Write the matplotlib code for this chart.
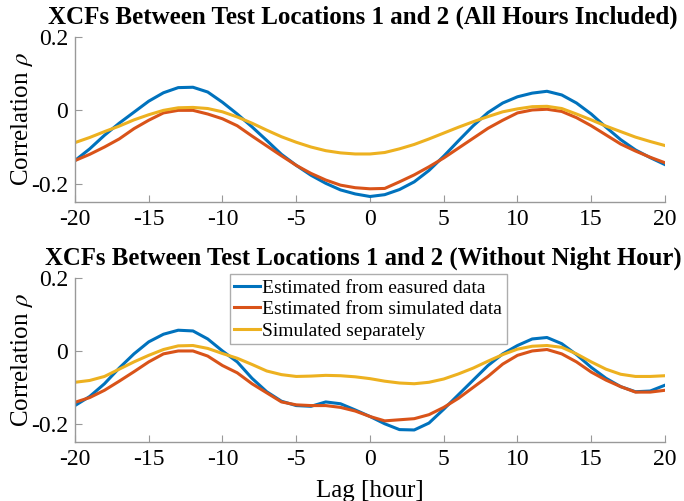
import numpy as np
import matplotlib.pyplot as plt

plt.rcParams['font.family'] = ['Liberation Serif', 'DejaVu Serif']
plt.rcParams['mathtext.fontset'] = 'stix'
plt.rcParams['axes.unicode_minus'] = False

lags = np.arange(-20, 21)

# all hours included
meas_all = [-0.137, -0.105, -0.068, -0.035, -0.005, 0.025, 0.048, 0.062, 0.063, 0.05, 0.022,
            -0.01, -0.045, -0.082, -0.12, -0.15, -0.177, -0.199, -0.217, -0.228, -0.235,
            -0.23, -0.216, -0.195, -0.164, -0.125, -0.083, -0.042, -0.006, 0.02, 0.037,
            0.047, 0.052, 0.042, 0.02, -0.01, -0.046, -0.08, -0.108, -0.129, -0.148]
sim_all = [-0.137, -0.12, -0.1, -0.078, -0.05, -0.027, -0.007, 0.0, 0.0, -0.01, -0.023,
           -0.042, -0.07, -0.097, -0.124, -0.15, -0.172, -0.19, -0.204, -0.211, -0.214,
           -0.213, -0.195, -0.176, -0.154, -0.13, -0.103, -0.076, -0.049, -0.027, -0.007,
           0.001, 0.003, -0.003, -0.02, -0.042, -0.067, -0.092, -0.111, -0.128, -0.143]
sep_all = [-0.088, -0.074, -0.058, -0.043, -0.026, -0.012, 0.0, 0.007, 0.008, 0.005, -0.004,
           -0.018, -0.035, -0.054, -0.072, -0.087, -0.1, -0.11, -0.116, -0.119, -0.119,
           -0.115, -0.105, -0.093, -0.078, -0.062, -0.046, -0.031, -0.017, -0.004, 0.004,
           0.01, 0.011, 0.005, -0.01, -0.026, -0.043, -0.058, -0.073, -0.085, -0.096]

# without night hours
meas_day = [-0.15, -0.125, -0.09, -0.047, -0.008, 0.025, 0.046, 0.057, 0.055, 0.033, 0.0,
            -0.03, -0.075, -0.112, -0.138, -0.15, -0.152, -0.14, -0.145, -0.162, -0.18,
            -0.2, -0.216, -0.217, -0.198, -0.16, -0.12, -0.08, -0.04, -0.008, 0.015,
            0.033, 0.037, 0.02, -0.01, -0.045, -0.075, -0.098, -0.112, -0.11, -0.094]
sim_day = [-0.141, -0.128, -0.108, -0.083, -0.057, -0.03, -0.008, 0.0, 0.0, -0.014, -0.04,
           -0.06, -0.09, -0.115, -0.14, -0.148, -0.15, -0.15, -0.155, -0.165, -0.18,
           -0.192, -0.189, -0.186, -0.175, -0.155, -0.13, -0.1, -0.07, -0.036, -0.012,
           0.0, 0.004, -0.008, -0.03, -0.058, -0.08, -0.098, -0.113, -0.113, -0.108]
sep_day = [-0.086, -0.081, -0.07, -0.05, -0.03, -0.012, 0.004, 0.014, 0.015, 0.007, -0.007,
           -0.02, -0.037, -0.055, -0.065, -0.07, -0.069, -0.067, -0.068, -0.071, -0.076,
           -0.083, -0.088, -0.09, -0.086, -0.077, -0.063, -0.047, -0.028, -0.01, 0.005,
           0.013, 0.015, 0.01, -0.008, -0.03, -0.05, -0.064, -0.07, -0.07, -0.068]

labels = ['Estimated from easured data', 'Estimated from simulated data', 'Simulated separately']
colors = ['#0072BD', '#D95319', '#EDB120']
titles = ['XCFs Between Test Locations 1 and 2 (All Hours Included)',
          'XCFs Between Test Locations 1 and 2 (Without Night Hour)']

fig = plt.figure(figsize=(6.84, 5.01), dpi=100)
ax1 = fig.add_axes([0.1096, 0.5968, 0.8626, 0.3293])
ax2 = fig.add_axes([0.1096, 0.1178, 0.8626, 0.327])

for ax, series, title, tsize in [(ax1, [meas_all, sim_all, sep_all], titles[0], 18),
                                 (ax2, [meas_day, sim_day, sep_day], titles[1], 17.8)]:
    for y, c, lab in zip(series, colors, labels):
        ax.plot(lags, y, color=c, lw=2.2, label=lab)
    ax.set_xlim(-20, 20)
    ax.set_ylim(-0.25, 0.2)
    ax.set_xticks(range(-20, 21, 5))
    ax.set_yticks([-0.2, 0, 0.2])
    ax.set_yticklabels(['-0.2', '0', '0.2'])
    for s in ['top', 'right']:
        ax.spines[s].set_visible(False)
    for s in ['left', 'bottom']:
        ax.spines[s].set_color('#999999')
        ax.spines[s].set_linewidth(1.0)
    ax.tick_params(direction='in', length=5, color='#999999', labelsize=17, pad=5)
    ax.set_ylabel(r'Correlation $\rho$', fontsize=18, labelpad=-3)
    ax.set_title(title, fontsize=tsize, fontweight='bold', pad=10, x=0.488)

ax2.set_xlabel('Lag [hour]', fontsize=18, labelpad=7)
ax2.legend(loc='upper left', bbox_to_anchor=(0.262, 1.025), fontsize=14, frameon=True,
           fancybox=False, edgecolor='#999999', handlelength=1.3, handletextpad=0.12,
           borderpad=0.25, labelspacing=0.2, borderaxespad=0.0)

fig.savefig('out.png', dpi=100)
